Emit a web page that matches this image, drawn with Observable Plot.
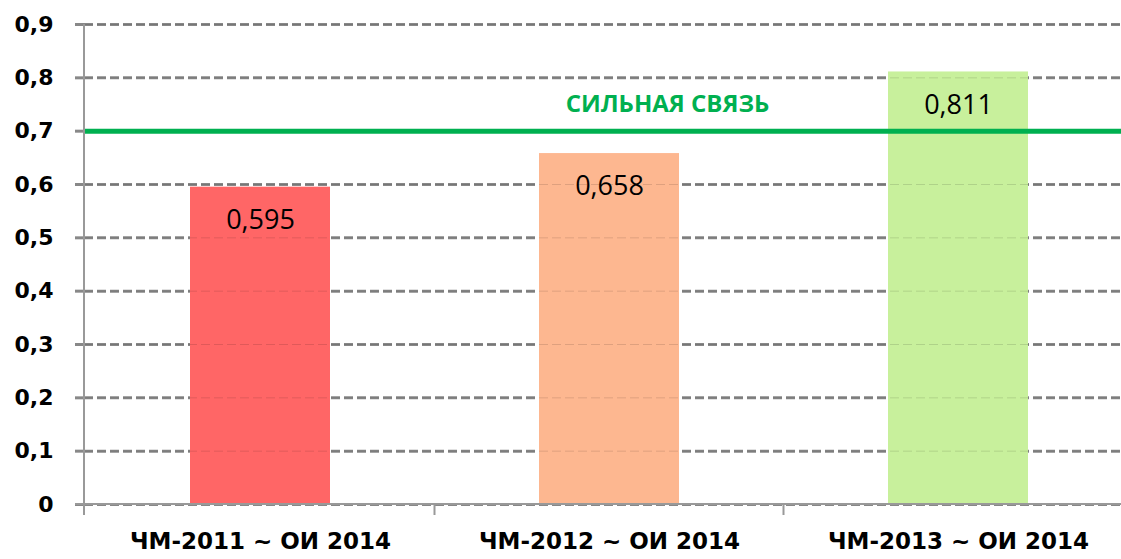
<!DOCTYPE html>
<html><head><meta charset="utf-8">
<script src="https://cdn.jsdelivr.net/npm/d3@7"></script>
<script src="https://cdn.jsdelivr.net/npm/@observablehq/plot@0.6"></script>
<style>body{margin:0;background:#fff;overflow:hidden;}</style>
</head><body><div id="chart"></div>
<script>
const categories = ["ЧМ-2011 ~ ОИ 2014", "ЧМ-2012 ~ ОИ 2014", "ЧМ-2013 ~ ОИ 2014"];
const values = [0.595, 0.658, 0.811];
const barColors = ["#ff6666", "#fdb790", "#c8f09c"];
const threshold = 0.7;
const thresholdLabel = "СИЛЬНАЯ СВЯЗЬ";
const yTicks = [0, 0.1, 0.2, 0.3, 0.4, 0.5, 0.6, 0.7, 0.8, 0.9];

const data = categories.map((c, i) => ({category: c, value: values[i]}));
const fmt = d => d === 0 ? "0" : d.toFixed(1).replace(".", ",");
const fmt3 = d => d.toFixed(3).replace(".", ",");

const chart = Plot.plot({
  width: 1121, height: 559,
  marginTop: 24, marginBottom: 55, marginLeft: 84, marginRight: 0,
  style: {background: "#fff", fontFamily: "DejaVu Sans", color: "#000"},
  x: {domain: categories, range: [84, 1133], paddingInner: 0.6, paddingOuter: 0.3, label: null},
  y: {domain: [0, 0.9], range: [504, 24], label: null},
  color: {domain: categories, range: barColors},
  marks: [
    Plot.gridY(yTicks, {stroke: "#888", strokeOpacity: 1, strokeWidth: 3, strokeDasharray: "9,4"}),
    Plot.barY(data, {x: "category", y: "value", fill: "category"}),
    Plot.gridY(yTicks.slice(1), {stroke: "#000", strokeOpacity: 0.12, strokeWidth: 1, strokeDasharray: "9,4"}),
    Plot.ruleY([threshold], {stroke: "#00b050", strokeWidth: 5}),
    Plot.text([thresholdLabel], {x: () => categories[1], y: () => threshold, text: d => d, dx: 58, dy: -27,
      fill: "#00b050", fontSize: 24, fontWeight: "bold", fontFamily: "Open Sans"}),
    Plot.text(data, {x: "category", y: "value", text: d => fmt3(d.value), dy: 33,
      fontSize: 27, fontWeight: 500, fontFamily: "Open Sans", fill: "#000"}),
    Plot.axisY(yTicks, {tickSize: 9, tickPadding: 22, tickFormat: fmt, stroke: "#888", strokeWidth: 3,
      fontSize: 22, fontWeight: "bold", fill: "#000", label: null}),
    Plot.axisX({tickSize: 0, tickPadding: 28, fontSize: 23, fontWeight: "bold", fill: "#000", label: null})
  ]
});
document.getElementById("chart").appendChild(chart);

// axis lines and category separators from the library's scales
const xs = chart.scale("x"), ys = chart.scale("y");
const svg = d3.select(chart);
const x0 = xs.range[0], x1 = 1121;
const yZero = ys.apply(0), yTop = ys.apply(0.9);
const g = svg.append("g").attr("stroke", "#999").attr("stroke-width", 2);
g.append("line").attr("x1", x0).attr("x2", x0).attr("y1", yTop).attr("y2", yZero + 11);
g.append("line").attr("x1", x0 - 9).attr("x2", x1).attr("y1", yZero).attr("y2", yZero);
categories.slice(0, -1).forEach(c => {
  const bx = xs.apply(c) + xs.bandwidth / 2 + xs.step / 2;
  g.append("line").attr("x1", bx).attr("x2", bx).attr("y1", yZero).attr("y2", yZero + 11);
});
</script></body></html>
